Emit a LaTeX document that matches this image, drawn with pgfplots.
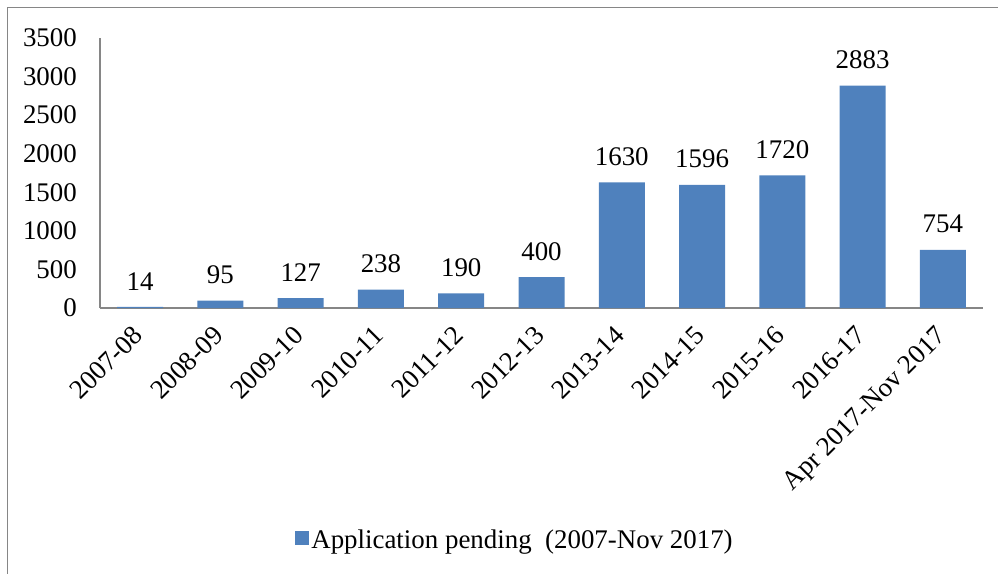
\documentclass[border=0pt]{standalone}
\usepackage{fontspec}
\setmainfont{Liberation Serif}
\usepackage{pgfplots}
\pgfplotsset{compat=1.18}
\definecolor{barblue}{HTML}{4F81BD}
\definecolor{axgray}{HTML}{868686}
\begin{document}
\begin{tikzpicture}
\useasboundingbox (0bp,0bp) rectangle (998bp,574bp);
\draw[axgray, line width=1.5bp] (7.5bp,0bp) -- (7.5bp,566.5bp) -- (998bp,566.5bp);
\begin{axis}[
  at={(100bp,266bp)}, anchor=south west,
  scale only axis, width=883bp, height=270bp,
  xmin=-0.5, xmax=10.5, ymin=0, ymax=3500,
  ytick={0,500,...,3500},
  xtick={0,...,10},
  xticklabels={2007-08,2008-09,2009-10,2010-11,2011-12,2012-13,2013-14,2014-15,2015-16,2016-17,Apr 2017-Nov 2017},
  axis x line*=bottom, axis y line*=left,
  axis line style={axgray, line width=1.2bp, -},
  major tick length=0pt,
  /pgf/number format/assume math mode=true,
  /pgf/number format/1000 sep={},
  scaled y ticks=false,
  ticklabel style={font=\fontsize{27}{31}\selectfont, text=black},
  yticklabel style={inner sep=0pt, anchor=east, xshift=-23bp},
  xticklabel style={inner sep=0pt, anchor=north east, rotate=45, xshift=-17.5bp, yshift=-5.5bp},
  ybar, bar width=46bp, bar shift=0pt,
  nodes near coords,
  every node near coord/.append style={font=\fontsize{27}{31}\selectfont, text=black, inner sep=0pt, anchor=south, yshift=16.5bp},
  clip=false,
  legend style={at={(0.47,-0.859)}, anchor=center, draw=none, fill=none, font=\fontsize{27}{31}\selectfont},
  legend image code/.code={\fill[barblue] (0bp,-5bp) rectangle (14bp,9bp);},
]
\addplot[fill=barblue, draw=none] coordinates {
  (0,14) (1,95) (2,127) (3,238) (4,190) (5,400) (6,1630) (7,1596) (8,1720) (9,2883) (10,754)
};
\addlegendentry{Application pending\ \ (2007-Nov 2017)}
\end{axis}
\end{tikzpicture}
\end{document}
